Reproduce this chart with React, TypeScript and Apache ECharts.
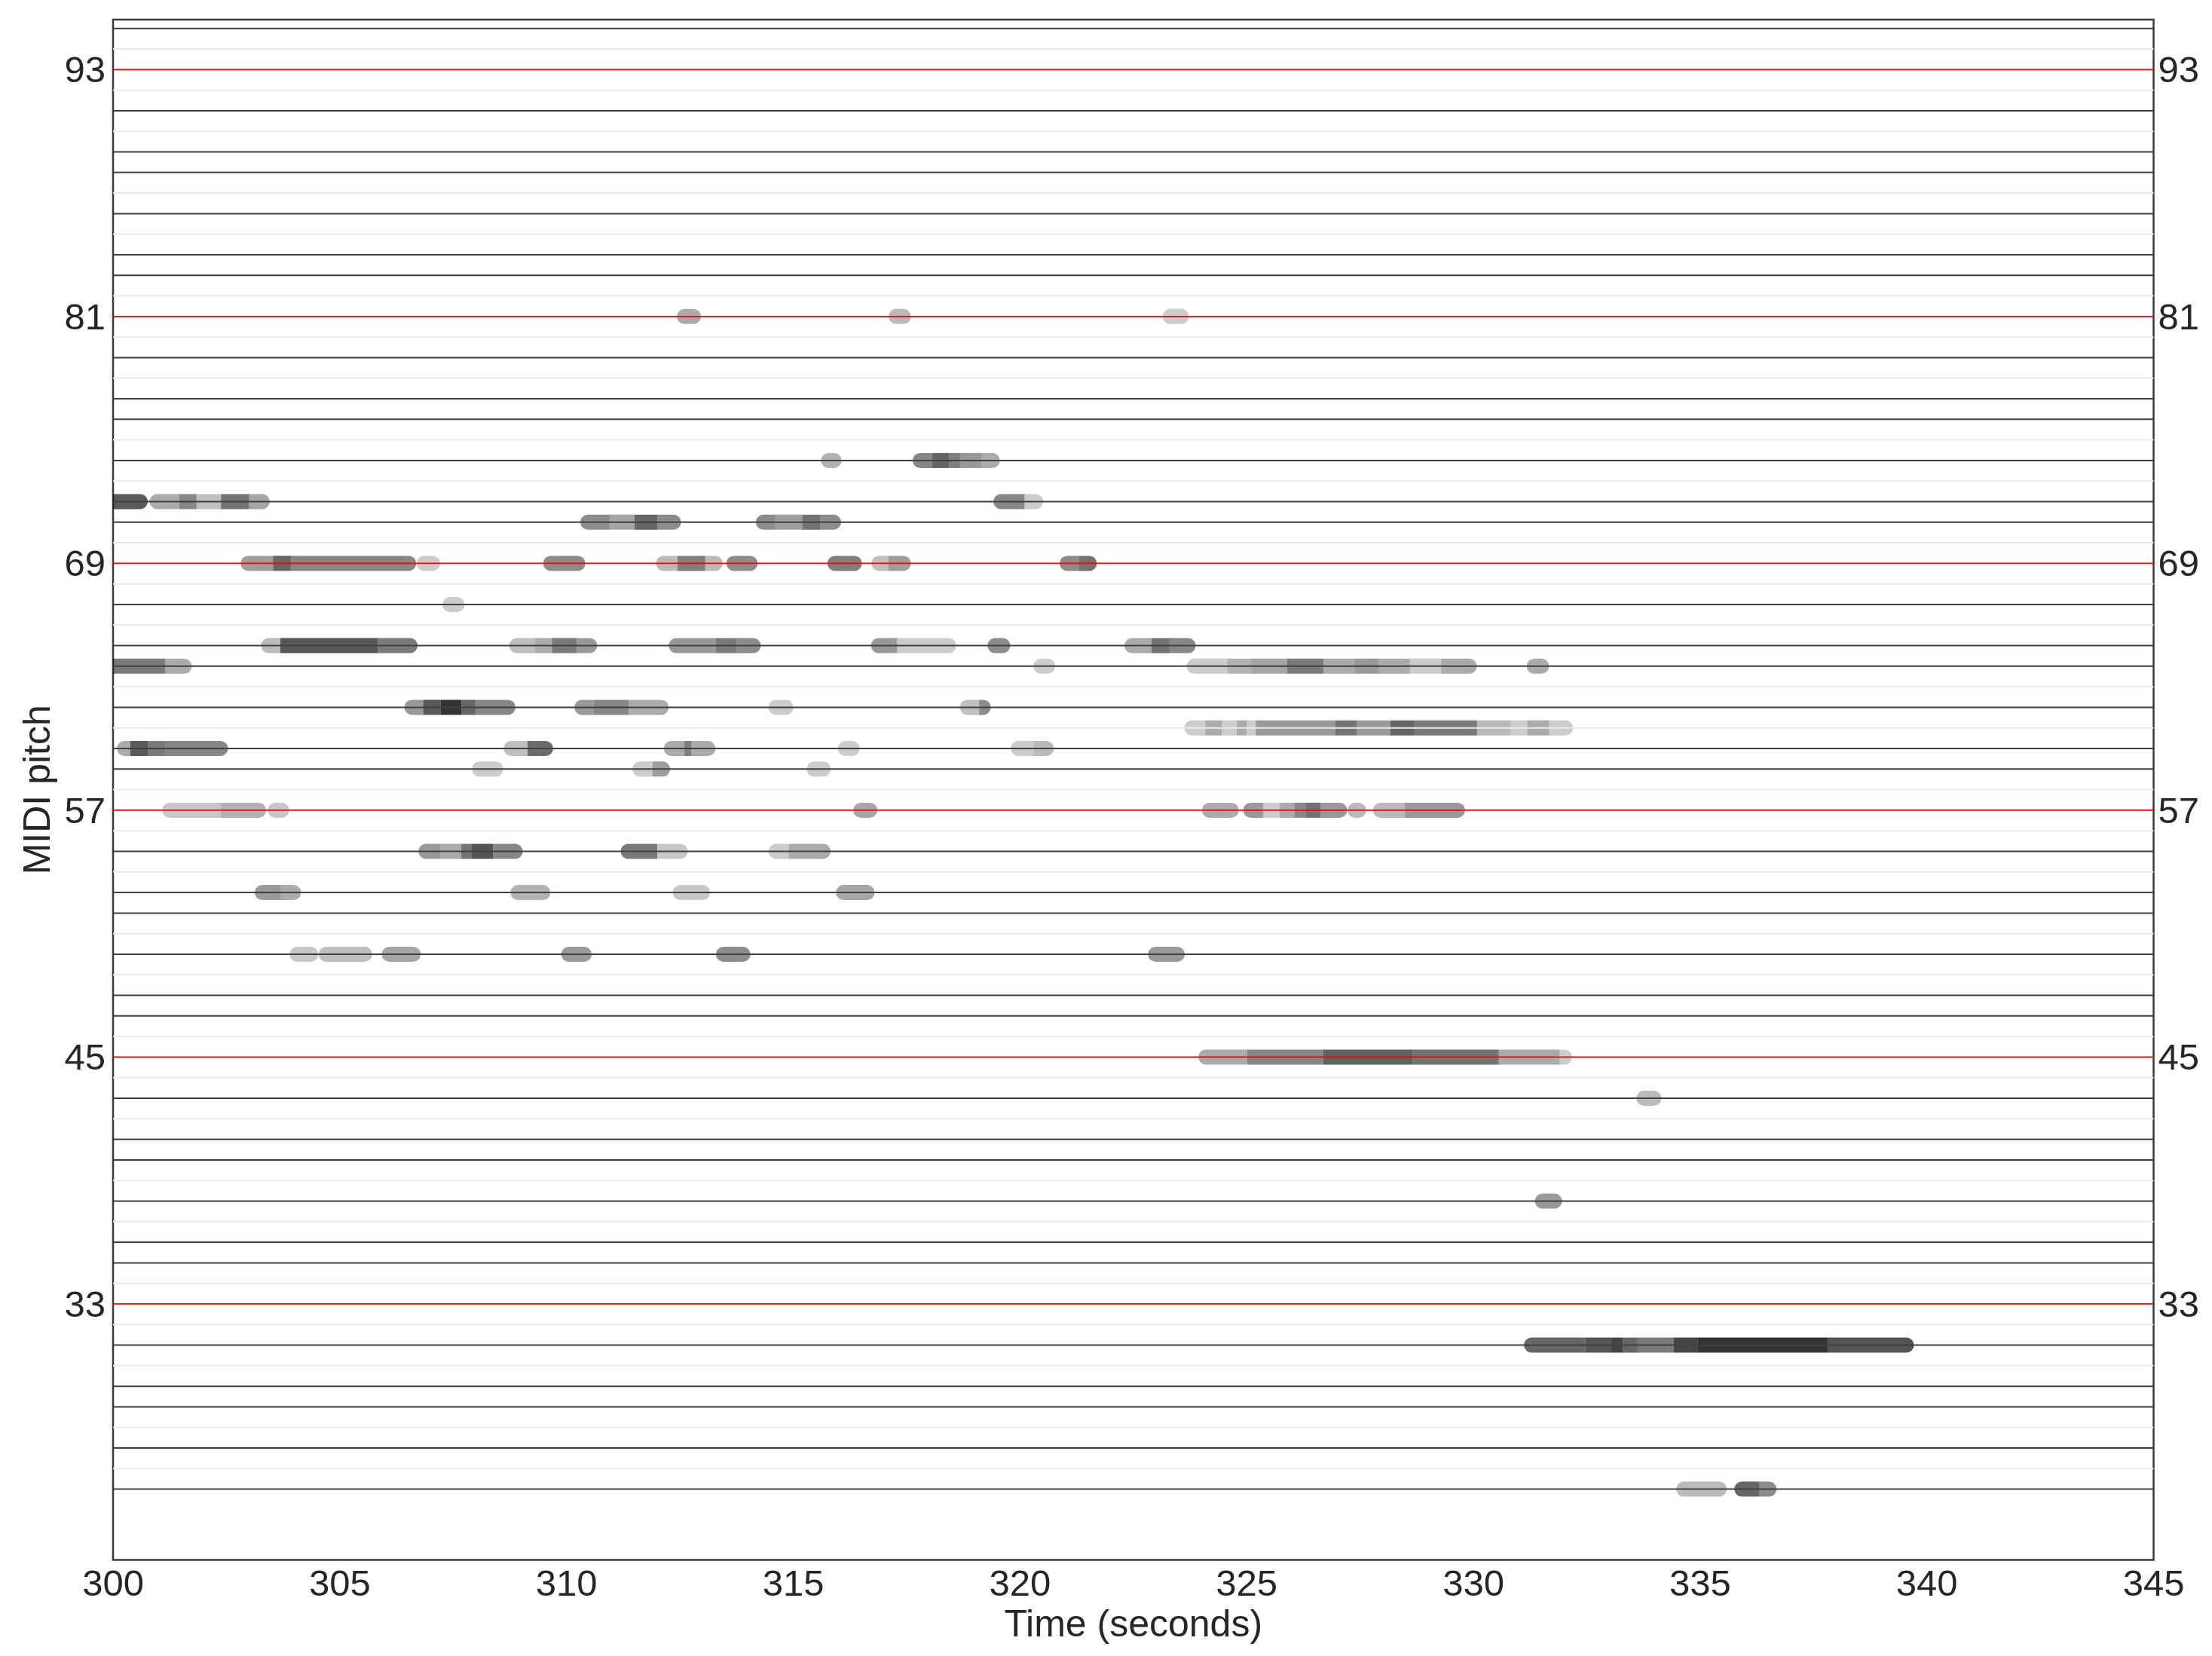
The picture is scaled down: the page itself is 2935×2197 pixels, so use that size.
import React, { useEffect, useRef } from "react";
import * as echarts from "echarts";

const FONT = '"Liberation Sans", Arial, Helvetica, sans-serif';

// Axis ranges / ticks
const timeMin = 300;
const timeMax = 345;
const timeStep = 5;
const pitchMin = 20.56;
const pitchMax = 95.43;
const pitchTicks = [33, 45, 57, 69, 81, 93];
const keyLineLow = 24;
const keyLineHigh = 95;

// Notes per pitch: [onset (s), offset (s), opacity]
const notes81 = [[312.6, 312.8, 0.33], [317.27, 317.43, 0.27], [323.31, 323.56, 0.2]];
const notes74 = [[315.78, 315.9, 0.3], [317.8, 318.06, 0.47], [318.06, 318.44, 0.6], [318.44, 318.68, 0.5], [318.68, 319.15, 0.4], [319.15, 319.39, 0.33]];
const notes72 = [
  [299.7, 300.6, 0.65], [300.97, 301.46, 0.33], [301.46, 301.84, 0.47], [301.84, 302.38, 0.25],
  [302.38, 303.0, 0.55], [303.0, 303.29, 0.35], [319.58, 320.1, 0.47], [320.1, 320.35, 0.2],
];
const notes71 = [
  [310.47, 310.95, 0.45], [310.95, 311.5, 0.35], [311.5, 312.0, 0.6], [312.0, 312.36, 0.45],
  [314.34, 314.6, 0.45], [314.6, 315.2, 0.38], [315.2, 315.6, 0.55], [315.6, 315.89, 0.45],
];
const notes69 = [
  [302.98, 303.53, 0.38], [303.53, 303.92, 0.6], [303.92, 306.52, 0.47], [306.86, 307.05, 0.2],
  [309.65, 310.25, 0.45], [312.14, 312.45, 0.27], [312.45, 313.06, 0.5], [313.06, 313.28, 0.27],
  [313.69, 314.05, 0.45], [315.92, 316.35, 0.5], [316.89, 317.1, 0.25], [317.1, 317.43, 0.38],
  [321.04, 321.3, 0.45], [321.3, 321.53, 0.55],
];
const notes67 = [[307.43, 307.59, 0.2]];
const notes65 = [
  [303.43, 303.69, 0.27], [303.69, 305.84, 0.66], [305.84, 306.55, 0.52],
  [308.9, 309.3, 0.25], [309.3, 309.68, 0.33], [309.68, 310.22, 0.52], [310.22, 310.51, 0.4],
  [312.42, 313.29, 0.4], [313.29, 313.75, 0.52], [313.75, 314.12, 0.45],
  [316.88, 317.29, 0.4], [317.29, 318.43, 0.2], [319.45, 319.62, 0.45],
  [322.47, 322.9, 0.33], [322.9, 323.3, 0.55], [323.3, 323.71, 0.47],
];
const notes64 = [
  [299.7, 301.15, 0.52], [301.15, 301.57, 0.33], [320.46, 320.61, 0.2],
  [323.84, 324.57, 0.2], [324.57, 325.1, 0.3], [325.1, 325.89, 0.35], [325.89, 326.69, 0.52],
  [326.69, 327.38, 0.33], [327.38, 327.91, 0.4], [327.91, 328.6, 0.33], [328.6, 329.29, 0.2],
  [329.29, 329.91, 0.33], [331.34, 331.5, 0.33],
];
const notes62 = [
  [306.59, 306.84, 0.4], [306.84, 307.22, 0.65], [307.22, 307.68, 0.8], [307.68, 307.99, 0.6],
  [307.99, 308.71, 0.47], [310.34, 310.6, 0.4], [310.6, 311.37, 0.47], [311.37, 312.09, 0.33],
  [314.62, 314.84, 0.2], [318.84, 319.1, 0.25], [319.1, 319.19, 0.45],
];
const notes61 = [
  [323.79, 324.09, 0.2], [324.09, 324.45, 0.33], [324.45, 324.78, 0.2], [324.78, 325.0, 0.33],
  [325.0, 325.2, 0.2], [325.2, 326.95, 0.4], [326.95, 327.43, 0.55], [327.43, 328.17, 0.4],
  [328.17, 328.7, 0.6], [328.7, 330.08, 0.52], [330.08, 330.82, 0.27], [330.82, 331.19, 0.2],
  [331.19, 331.67, 0.33], [331.67, 332.03, 0.2],
];
const notes60 = [
  [300.25, 300.38, 0.33], [300.38, 300.77, 0.65], [300.77, 301.15, 0.52], [301.15, 302.37, 0.47],
  [308.78, 309.14, 0.25], [309.14, 309.54, 0.58], [312.31, 312.6, 0.33], [312.6, 312.75, 0.5],
  [312.75, 313.12, 0.33], [316.15, 316.3, 0.2], [319.96, 320.3, 0.2], [320.3, 320.58, 0.27],
];
const notes59 = [[308.08, 308.44, 0.2], [311.62, 311.9, 0.2], [311.9, 312.12, 0.38], [315.46, 315.66, 0.2]];
const notes57 = [
  [301.25, 302.38, 0.22], [302.38, 303.21, 0.3], [303.58, 303.72, 0.22], [316.49, 316.69, 0.35],
  [324.18, 324.66, 0.33], [325.09, 325.36, 0.4], [325.36, 325.73, 0.2], [325.73, 326.05, 0.33],
  [326.05, 326.31, 0.47], [326.31, 326.63, 0.55], [326.63, 327.05, 0.4], [327.39, 327.47, 0.27],
  [327.95, 328.49, 0.27], [328.49, 329.65, 0.4],
];
const notes55 = [
  [306.9, 307.22, 0.4], [307.22, 307.68, 0.33], [307.68, 307.91, 0.55], [307.91, 308.38, 0.67],
  [308.38, 308.87, 0.47], [311.36, 312.0, 0.52], [312.0, 312.51, 0.22], [314.62, 314.9, 0.2],
  [314.9, 315.66, 0.33],
];
const notes53 = [[303.29, 303.7, 0.4], [303.7, 303.98, 0.33], [308.93, 309.48, 0.3], [312.51, 313.0, 0.22], [316.11, 316.63, 0.35]];
const notes50 = [[304.06, 304.36, 0.22], [304.7, 305.55, 0.25], [306.09, 306.62, 0.35], [310.05, 310.39, 0.4], [313.46, 313.89, 0.45], [322.99, 323.47, 0.4]];
const notes45 = [[324.1, 325.01, 0.33], [325.01, 326.69, 0.47], [326.69, 328.66, 0.62], [328.66, 330.56, 0.55], [330.56, 331.9, 0.33], [331.9, 332.01, 0.2]];
const notes43 = [[333.76, 333.98, 0.27]];
const notes38 = [[331.52, 331.79, 0.4]];
const notes31 = [
  [331.28, 332.47, 0.6], [332.47, 333.04, 0.67], [333.04, 333.3, 0.73], [333.3, 333.62, 0.6],
  [333.62, 334.42, 0.52], [334.42, 334.95, 0.73], [334.95, 337.81, 0.8], [337.81, 339.55, 0.67],
];
const notes24 = [[334.64, 335.42, 0.27], [335.92, 336.3, 0.6], [336.3, 336.52, 0.45]];

const noteRows: [number, number[][]][] = [
  [81, notes81], [74, notes74], [72, notes72], [71, notes71], [69, notes69], [67, notes67],
  [65, notes65], [64, notes64], [62, notes62], [61, notes61], [60, notes60], [59, notes59],
  [57, notes57], [55, notes55], [53, notes53], [50, notes50], [45, notes45], [43, notes43],
  [38, notes38], [31, notes31], [24, notes24],
];

const BLACK_KEYS = [1, 3, 6, 8, 10];
const NOTE_HEIGHT = 20;

export default function App() {
  const ref = useRef<HTMLDivElement>(null);

  useEffect(() => {
    if (!ref.current) return;
    const chart = echarts.init(ref.current, null, { renderer: "svg" });

    // [onset, offset, pitch, opacity, joinedToPrevious(0/1), joinedToNext(0/1)]
    const noteData: number[][] = [];
    noteRows.forEach(([pitch, list]) => {
      list.forEach(([on, off, a]) => {
        const prev = list.some((o) => Math.abs(o[1] - on) < 0.015) ? 1 : 0;
        const next = list.some((o) => Math.abs(o[0] - off) < 0.015) ? 1 : 0;
        noteData.push([on, off, pitch, a, prev, next]);
      });
    });

    const keyLineData: number[][] = [];
    for (let p = keyLineLow; p <= keyLineHigh; p++) keyLineData.push([timeMin, p]);

    const labelStyle = { fontSize: 49, color: "#262626", fontFamily: FONT };

    chart.setOption({
      animation: false,
      backgroundColor: "#ffffff",
      grid: {
        left: 150,
        top: 26,
        right: 77.5,
        bottom: 127.5,
        show: true,
        borderColor: "#3a3a3a",
        borderWidth: 2.5,
        backgroundColor: "transparent",
      },
      xAxis: {
        type: "value",
        min: timeMin,
        max: timeMax,
        interval: timeStep,
        name: "Time (seconds)",
        nameLocation: "middle",
        nameGap: 56,
        nameTextStyle: { fontSize: 50, color: "#262626", fontFamily: FONT },
        axisLine: { show: false },
        axisTick: { show: false },
        splitLine: { show: false },
        axisLabel: { ...labelStyle, margin: 6 },
      },
      yAxis: [
        {
          type: "value",
          position: "left",
          min: pitchMin,
          max: pitchMax,
          name: "MIDI pitch",
          nameLocation: "middle",
          nameGap: 76,
          nameRotate: 90,
          nameTextStyle: { fontSize: 50, color: "#262626", fontFamily: FONT },
          axisLine: { show: false },
          axisTick: { show: false },
          splitLine: { show: false },
          axisLabel: { ...labelStyle, margin: 10, customValues: pitchTicks },
        },
        {
          type: "value",
          position: "right",
          min: pitchMin,
          max: pitchMax,
          axisLine: { show: false },
          axisTick: { show: false },
          splitLine: { show: false },
          axisLabel: { ...labelStyle, margin: 6, customValues: pitchTicks },
        },
      ],
      series: [
        {
          type: "custom",
          name: "notes",
          coordinateSystem: "cartesian2d",
          xAxisIndex: 0,
          yAxisIndex: 0,
          clip: true,
          z: 2,
          encode: { x: [0, 1], y: 2 },
          data: noteData,
          renderItem: (params: any, api: any) => {
            const on = api.value(0);
            const off = Math.max(api.value(1), on);
            const p = api.value(2);
            const a = api.value(3);
            const prev = api.value(4) === 1;
            const next = api.value(5) === 1;
            const c1 = api.coord([on, p]);
            const c2 = api.coord([off, p]);
            const r = NOTE_HEIGHT / 2;
            const left = prev ? c1[0] : c1[0] - r;
            const right = next ? c2[0] : c2[0] + r;
            const rl = prev ? 0 : r;
            const rr = next ? 0 : r;
            return {
              type: "rect",
              shape: {
                x: left,
                y: c1[1] - r,
                width: Math.max(right - left, 0.5),
                height: NOTE_HEIGHT,
                r: [rl, rr, rr, rl],
              },
              style: { fill: `rgba(0,0,0,${a})`, stroke: null },
            };
          },
        },
        {
          type: "custom",
          name: "keys",
          coordinateSystem: "cartesian2d",
          xAxisIndex: 0,
          yAxisIndex: 0,
          clip: true,
          z: 3,
          encode: { x: 0, y: 1 },
          data: keyLineData,
          renderItem: (params: any, api: any) => {
            const p = api.value(1);
            const c = api.coord([api.value(0), p]);
            const cs = params.coordSys;
            const pc = ((p % 12) + 12) % 12;
            let color = "#404040";
            let w = 2;
            if (pc === 9) {
              color = "#ff0000";
              w = 1.8;
            } else if (BLACK_KEYS.indexOf(pc) >= 0) {
              color = "#e9e9e9";
              w = 2;
            }
            return {
              type: "line",
              shape: { x1: cs.x, y1: c[1], x2: cs.x + cs.width, y2: c[1] },
              style: { stroke: color, lineWidth: w, fill: null },
            };
          },
        },
      ],
    });

    return () => chart.dispose();
  }, []);

  return (
    <div
      ref={ref}
      style={{ position: "absolute", left: 0, top: 0, width: 2935, height: 2197, background: "#ffffff" }}
    />
  );
}
